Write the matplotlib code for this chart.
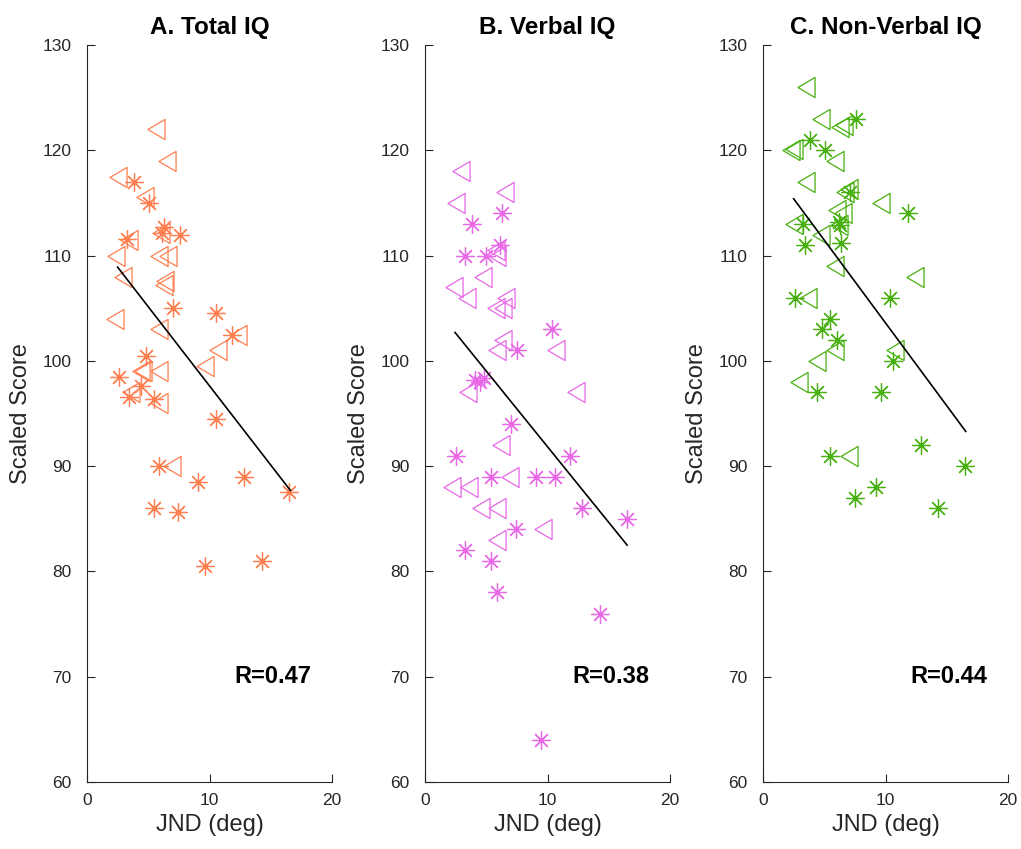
import numpy as np
import matplotlib.pyplot as plt
from matplotlib.path import Path

plt.rcParams['font.family'] = ['Liberation Sans', 'DejaVu Sans']

titles = ['A. Total IQ', 'B. Verbal IQ', 'C. Non-Verbal IQ']
r_labels = ['R=0.47', 'R=0.38', 'R=0.44']
colors = ['#FF7F50', '#E868E8', '#48B010']

# panel A
tri_x_a = [5.6, 6.5, 2.5, 4.7, 6.0, 3.4, 2.4, 5.9, 6.6, 6.4, 6.3, 2.9, 2.3, 5.9, 12.3, 10.7, 9.6, 4.4, 4.6, 5.9, 3.6, 5.9, 6.9]
tri_y_a = [122, 119, 117.5, 115.6, 112.1, 111.5, 110, 110, 110, 107.6, 107.2, 108, 104, 103, 102.5, 101, 99.5, 99, 99, 99, 97, 96, 90]
ast_x_a = [3.8, 5.1, 6.3, 6.1, 7.6, 3.3, 7.0, 10.5, 11.8, 4.8, 2.6, 4.4, 3.4, 5.5, 10.5, 5.9, 9.1, 12.8, 16.5, 5.5, 7.4, 9.6, 14.3]
ast_y_a = [117, 115, 112.7, 112.1, 112, 111.6, 105, 104.5, 102.5, 100.5, 98.5, 97.6, 96.6, 96.4, 94.5, 90, 88.5, 89, 87.5, 86, 85.6, 80.5, 81]
fit_x_a = [2.5, 16.6]
fit_y_a = [108.9, 87.7]

# panel B
tri_x_b = [2.9, 6.5, 2.5, 5.9, 5.8, 4.7, 2.4, 3.4, 6.6, 5.8, 6.4, 6.4, 5.9, 10.7, 3.5, 12.3, 6.2, 6.9, 2.2, 3.6, 4.6, 5.9, 9.6, 5.9]
tri_y_b = [118, 116, 115, 110, 110.5, 108, 107, 106, 106, 105, 105, 102, 101, 101, 97, 97, 92, 89, 88, 88, 86, 86, 84, 83]
ast_x_b = [6.3, 3.8, 6.1, 3.3, 5.0, 10.4, 7.5, 4.1, 4.5, 4.8, 7.0, 2.5, 11.8, 5.4, 9.1, 10.6, 12.8, 16.5, 7.4, 3.3, 5.4, 5.9, 14.3, 9.5]
ast_y_b = [114, 113, 111, 110, 110, 103, 101, 98.2, 98, 98.4, 94, 91, 91, 89, 89, 89, 86, 85, 84, 82, 81, 78, 76, 64]
fit_x_b = [2.45, 16.5]
fit_y_b = [102.7, 82.5]

# panel C
tri_x_c = [3.5, 4.7, 6.3, 6.6, 2.3, 2.5, 5.9, 3.5, 6.7, 7.0, 9.6, 6.0, 6.5, 6.2, 2.5, 4.7, 5.9, 12.4, 3.7, 5.9, 4.4, 10.8, 2.9, 7.0]
tri_y_c = [126, 123, 122.2, 122.4, 120, 120.1, 119, 117, 116, 116.3, 115, 114.3, 114, 112.9, 113, 112, 109, 108, 106, 101, 100, 101, 98, 91]
ast_x_c = [7.6, 3.8, 5.1, 7.1, 11.8, 6.2, 6.3, 3.3, 3.4, 6.4, 2.6, 10.4, 5.5, 4.8, 6.0, 10.6, 4.4, 9.6, 12.9, 5.5, 16.5, 9.2, 7.5, 14.3]
ast_y_c = [123, 121, 120, 116, 114, 113.2, 112.9, 113, 111, 111.2, 106, 106, 104, 103, 102, 100, 97, 97, 92, 91, 90, 88, 87, 86]
fit_x_c = [2.5, 16.55]
fit_y_c = [115.4, 93.3]

panels = [
    (tri_x_a, tri_y_a, ast_x_a, ast_y_a, fit_x_a, fit_y_a),
    (tri_x_b, tri_y_b, ast_x_b, ast_y_b, fit_x_b, fit_y_b),
    (tri_x_c, tri_y_c, ast_x_c, ast_y_c, fit_x_c, fit_y_c),
]

# narrow left-pointing triangle, like matlab '<'
tri_marker = Path([(-0.85, 0), (0.85, 1), (0.85, -1), (-0.85, 0)],
                  [Path.MOVETO, Path.LINETO, Path.LINETO, Path.CLOSEPOLY])

fig = plt.figure(figsize=(10.21, 8.49), dpi=100)
lefts = [87 / 1021, 425 / 1021, 763 / 1021]
axis_col = '#262626'

for i, (tx, ty, ax_, ay, fx, fy) in enumerate(panels):
    ax = fig.add_axes([lefts[i], 67 / 849, 245 / 1021, 737 / 849])
    ax.plot(tx, ty, linestyle='none', marker=tri_marker, markersize=14.5,
            markerfacecolor='none', markeredgecolor=colors[i], markeredgewidth=0.9)
    ax.plot(ax_, ay, linestyle='none', marker=(8, 2, 0), markersize=13,
            markeredgecolor=colors[i], markeredgewidth=0.9)
    ax.plot(fx, fy, color='black', linewidth=1.2)
    ax.text(12, 70, r_labels[i], fontsize=17, fontweight='bold', va='center', ha='left')

    ax.set_xlim(0, 20)
    ax.set_ylim(60, 130)
    ax.set_xticks([0, 10, 20])
    ax.set_yticks(np.arange(60, 131, 10))
    ax.spines['top'].set_visible(False)
    ax.spines['right'].set_visible(False)
    for s in ['left', 'bottom']:
        ax.spines[s].set_color(axis_col)
        ax.spines[s].set_linewidth(0.8)
    ax.tick_params(direction='in', length=5.5, width=0.8, colors=axis_col,
                   labelsize=12.5, labelcolor=axis_col)
    ax.tick_params(axis='y', pad=11)
    ax.tick_params(axis='x', pad=8)
    ax.set_xlabel('JND (deg)', fontsize=17, color=axis_col, labelpad=4)
    ax.set_ylabel('Scaled Score', fontsize=17, color=axis_col, labelpad=8)
    ax.set_title(titles[i], fontsize=17.5, fontweight='bold', pad=8)

fig.savefig('out.png', dpi=100)
